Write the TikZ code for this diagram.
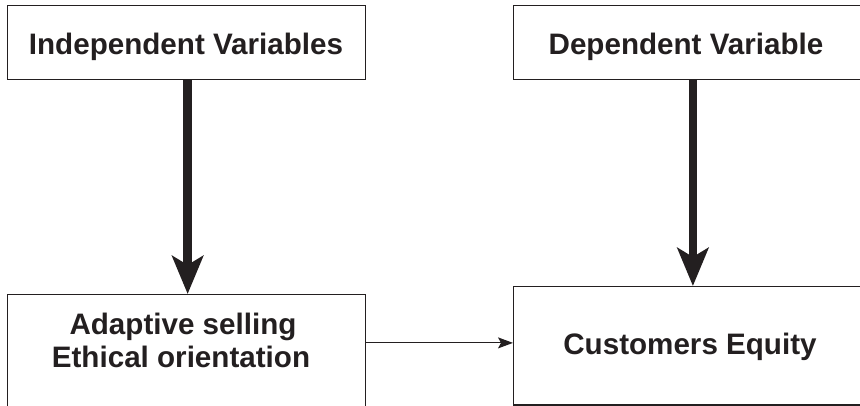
\documentclass[tikz,border=0pt]{standalone}
\usepackage{fontspec}
\setmainfont{Liberation Sans}
\usetikzlibrary{arrows.meta}
\definecolor{ink}{HTML}{231F20}
\tikzset{
  box/.style={draw=ink, line width=1.3pt, inner sep=0pt, anchor=north west},
  lbl/.style={text=ink, font=\fontsize{29.6}{33}\selectfont\bfseries, inner sep=0pt, anchor=base},
  bigarrow/.style={draw=ink, line width=8.5pt, -{Stealth[length=38pt,width=31pt,inset=9pt]}},
  thinarrow/.style={draw=ink, line width=1.2pt, -{Stealth[length=15pt,width=11pt,inset=3pt]}}
}
\begin{document}
\begin{tikzpicture}[x=1pt,y=1pt]
\useasboundingbox (0,0) rectangle (860,406);
\node[box, minimum width=358pt, minimum height=74pt] (b1) at (7,401) {};
\node[box, minimum width=348.5pt, minimum height=74pt] (b2) at (513,401) {};
\node[box, minimum width=358pt, minimum height=116pt] (b3) at (7,112) {};
\node[box, minimum width=348.5pt, minimum height=118.5pt] (b4) at (513,120) {};
\node[lbl] (t1) at (186,351) {Independent Variables};
\node[lbl] (t2) at (686,351) {Dependent Variable};
\node[lbl] (t3a) at (183,71) {Adaptive selling};
\node[lbl] (t3b) at (181,38) {Ethical orientation};
\node[lbl] (t4) at (690,51) {Customers Equity};
\draw[bigarrow] ([xshift=1pt]b1.south) -- ([xshift=1pt]b3.north);
\draw[bigarrow] ([xshift=5pt]b2.south) -- ([xshift=5pt]b4.north);
\draw[thinarrow] ([yshift=3pt]b4.west -| b3.east) -- ([yshift=3pt]b4.west);
\end{tikzpicture}
\end{document}
